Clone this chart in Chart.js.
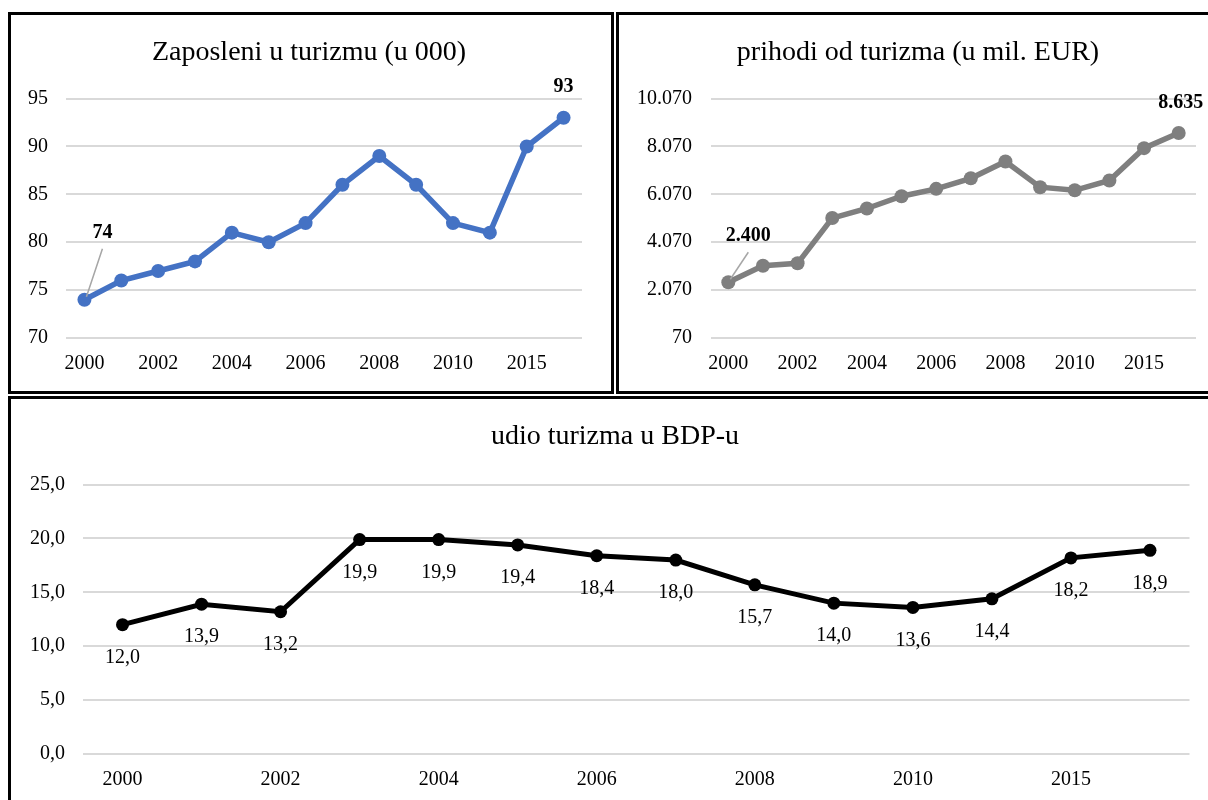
<!DOCTYPE html>
<html>
<head>
<meta charset="utf-8">
<script src="https://cdn.jsdelivr.net/npm/chart.js@4.4.1/dist/chart.umd.min.js"></script>
<style>
  html, body { margin: 0; padding: 0; background: #fff; }
  body { width: 1208px; height: 800px; position: relative; overflow: hidden; }
  .frame { position: absolute; box-sizing: border-box; border: 3px solid #000; }
  .box { position: absolute; }
</style>
</head>
<body>
<div class="frame" style="left:8px;top:12px;width:606px;height:382px"></div>
<div class="frame" style="left:616px;top:12px;width:640px;height:382px"></div>
<div class="frame" style="left:8px;top:396px;width:1250px;height:450px"></div>
<div class="box" style="left:11px;top:15px;width:596px;height:376px"><canvas id="empChart"></canvas></div>
<div class="box" style="left:619px;top:15px;width:598px;height:376px"><canvas id="revChart"></canvas></div>
<div class="box" style="left:11px;top:399px;width:1208px;height:401px"><canvas id="gdpChart"></canvas></div>
<script>
// ── Data ──────────────────────────────────────────────────────────────────────
const YEARS = ['2000','2001','2002','2003','2004','2005','2006','2007','2008','2009','2010','2011','2015','2016'];
const EMPLOYED = [74, 76, 77, 78, 81, 80, 82, 86, 89, 86, 82, 81, 90, 93];        // u 000
const REVENUE = [2400, 3090, 3190, 5080, 5480, 5990, 6300, 6740, 7440, 6370, 6240, 6650, 8000, 8635]; // mil. EUR
const GDP_SHARE = [12.0, 13.9, 13.2, 19.9, 19.9, 19.4, 18.4, 18.0, 15.7, 14.0, 13.6, 14.4, 18.2, 18.9];
const EMP_AXIS = [70, 95, 5];       // min, max, step
const REV_AXIS = [70, 10070, 2000];
const GDP_AXIS = [0, 25, 5];

const SERIF = "'Liberation Serif', 'Times New Roman', serif";
Chart.defaults.font.family = SERIF;
Chart.defaults.color = '#000';

const fmtDots = v => String(Math.round(v)).replace(/\B(?=(\d{3})+(?!\d))/g, '.');
const fmtComma = v => Number(v).toFixed(1).replace('.', ',');

// small inline label plugin: text placed relative to the library's point elements
function makeLabels(cfg) {
  return {
    id: 'pointLabels',
    afterDatasetsDraw(chart) {
      const { ctx } = chart;
      const meta = chart.getDatasetMeta(0);
      const values = chart.data.datasets[0].data;
      ctx.save();
      ctx.font = cfg.font;
      ctx.fillStyle = '#000';
      ctx.textAlign = 'center';
      ctx.textBaseline = 'middle';
      cfg.items.forEach(it => {
        const pt = meta.data[it.index];
        const lx = pt.x + (it.dx || 0), ly = pt.y + it.dy;
        if (it.leader) {
          ctx.strokeStyle = '#a6a6a6';
          ctx.lineWidth = 1.5;
          ctx.beginPath();
          ctx.moveTo(lx, ly + 16);
          ctx.lineTo(pt.x + 2, pt.y - 3);
          ctx.stroke();
        }
        ctx.fillText(cfg.format(values[it.index]), lx, ly);
      });
      ctx.restore();
    }
  };
}

function buildChart(id, cfg) {
  const [min, max, step] = cfg.axis;
  return new Chart(document.getElementById(id), {
    type: 'line',
    data: {
      labels: YEARS,
      datasets: [{
        data: cfg.data,
        borderColor: cfg.color, backgroundColor: cfg.color,
        borderWidth: cfg.lineWidth, pointRadius: cfg.pointRadius, pointHoverRadius: cfg.pointRadius,
        pointBorderWidth: 0, tension: 0,
      }],
    },
    options: {
      responsive: true, maintainAspectRatio: false, animation: false,
      layout: { padding: 0 },
      plugins: {
        legend: { display: false },
        tooltip: { enabled: false },
        title: {
          display: true, text: cfg.title, color: '#000',
          font: { family: SERIF, size: 28, weight: 'normal' },
          padding: { top: cfg.titleTop, bottom: cfg.titleBottom },
        },
      },
      scales: {
        x: {
          offset: true,
          grid: { display: false, drawTicks: false, offset: true },
          border: { display: false },
          ticks: {
            autoSkip: false, maxRotation: 0, padding: 14, color: '#000',
            font: { size: 20 },
            callback: (v, i) => (i % 2 === 0 ? YEARS[i] : ''),
          },
          afterFit: s => { s.height = cfg.xHeight; },
        },
        y: {
          min, max,
          ticks: { stepSize: step, padding: cfg.yPad, color: '#000', font: { size: 20 }, callback: cfg.tickFmt },
          grid: { color: '#d9d9d9', lineWidth: 2, drawTicks: false },
          border: { display: false },
          afterFit: s => { s.width = cfg.yWidth; },
        },
        // empty right-hand gutter so the title stays centred on the whole panel
        gutter: {
          type: 'linear', position: 'right',
          ticks: { display: false }, grid: { display: false }, border: { display: false },
          afterFit: s => { s.width = cfg.padRight; },
        },
      },
    },
    plugins: [makeLabels(cfg.labels)],
  });
}

// ── Charts ────────────────────────────────────────────────────────────────────
buildChart('empChart', {
  title: 'Zaposleni u turizmu (u 000)',
  data: EMPLOYED, axis: EMP_AXIS, color: '#4472c4', lineWidth: 5.5, pointRadius: 7,
  yWidth: 55, yPad: 18, padRight: 25, xHeight: 53, titleTop: 21, titleBottom: 29,
  tickFmt: v => String(v),
  labels: {
    font: `bold 20px ${SERIF}`, format: v => String(v),
    items: [{ index: 0, dx: 18, dy: -67, leader: true }, { index: 13, dy: -31 }],
  },
});

buildChart('revChart', {
  title: 'prihodi od turizma (u mil. EUR)',
  data: REVENUE, axis: REV_AXIS, color: '#7f7f7f', lineWidth: 5.5, pointRadius: 7,
  yWidth: 92, yPad: 19, padRight: 21, xHeight: 53, titleTop: 21, titleBottom: 29,
  tickFmt: fmtDots,
  labels: {
    font: `bold 20px ${SERIF}`, format: fmtDots,
    items: [{ index: 0, dx: 20, dy: -46, leader: true }, { index: 13, dx: 2, dy: -30 }],
  },
});

buildChart('gdpChart', {
  title: 'udio turizma u BDP-u',
  data: GDP_SHARE, axis: GDP_AXIS, color: '#000', lineWidth: 5, pointRadius: 6.5,
  yWidth: 72, yPad: 18, padRight: 29.5, xHeight: 46, titleTop: 21, titleBottom: 31,
  tickFmt: fmtComma,
  labels: {
    font: `20px ${SERIF}`, format: fmtComma,
    items: GDP_SHARE.map((_, i) => ({ index: i, dy: 33 })),
  },
});
</script>
</body>
</html>
